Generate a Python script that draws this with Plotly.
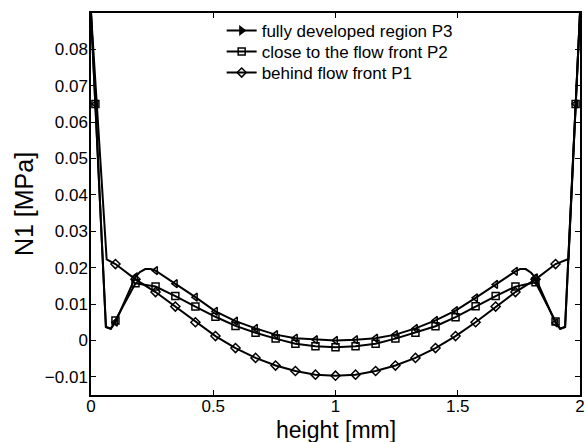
import plotly.graph_objects as go

# ---- data ----
marker_x = [0.018, 0.100, 0.182, 0.264, 0.345, 0.427, 0.509, 0.591, 0.673, 0.755,
            0.836, 0.918, 1.000, 1.082, 1.164, 1.245, 1.327, 1.409, 1.491, 1.573,
            1.655, 1.736, 1.818, 1.900, 1.982]

p3_marker_y = [0.065, 0.0050, 0.0175, 0.0192, 0.0156, 0.0119, 0.0080, 0.0053, 0.0033, 0.0016,
               0.0006, 0.0002, 0.0000, 0.0002, 0.0006, 0.0016, 0.0033, 0.0055, 0.0082, 0.0117,
               0.0154, 0.0190, 0.0172, 0.0048, 0.065]
p2_marker_y = [0.065, 0.0055, 0.0157, 0.0148, 0.0122, 0.0093, 0.0065, 0.0040, 0.0021, 0.0005,
               -0.0009, -0.0016, -0.0019, -0.0016, -0.0009, 0.0005, 0.0021, 0.0039, 0.0064, 0.0094,
               0.0122, 0.0148, 0.0160, 0.0052, 0.065]
p1_marker_y = [None, 0.0210, 0.0168, 0.0133, 0.0093, 0.0050, 0.0012, -0.0021, -0.0048, -0.0069,
               -0.0084, -0.0094, -0.0097, -0.0094, -0.0084, -0.0069, -0.0048, -0.0021, 0.0012, 0.0050,
               0.0093, 0.0133, 0.0168, 0.0210, None]

# extra line vertices (no markers) near the walls / hump
p3_extra_x = [0.0, 0.061, 0.081, 0.200, 0.222, 0.245, 1.755, 1.778, 1.800, 1.919, 1.939, 2.0]
p3_extra_y = [0.090, 0.0037, 0.0032, 0.0188, 0.0196, 0.0196, 0.0196, 0.0196, 0.0186, 0.0032, 0.0037, 0.090]
p2_extra_x = [0.0, 0.061, 0.081, 1.919, 1.939, 2.0]
p2_extra_y = [0.090, 0.0037, 0.0032, 0.0032, 0.0037, 0.090]
p1_extra_x = [0.0, 0.064, 1.953, 2.0]
p1_extra_y = [0.090, 0.0223, 0.0224, 0.090]

x_tickvals = [0, 0.5, 1, 1.5, 2]
x_ticktext = ["0", "0.5", "1", "1.5", "2"]
y_tickvals = [-0.01, 0, 0.01, 0.02, 0.03, 0.04, 0.05, 0.06, 0.07, 0.08]
y_ticktext = ["\u22120.01", "0", "0.01", "0.02", "0.03", "0.04", "0.05", "0.06", "0.07", "0.08"]

series = [
    ("fully developed region P3", p3_marker_y, p3_extra_x, p3_extra_y, "triangle-left-open", "triangle-right"),
    ("close to the flow front P2", p2_marker_y, p2_extra_x, p2_extra_y, "square-open", "square-open"),
    ("behind flow front P1", p1_marker_y, p1_extra_x, p1_extra_y, "diamond-open", "diamond-open"),
]

FONT = "Liberation Sans, Arial, Helvetica, sans-serif"
fig = go.Figure()

for name, my, ex, ey, sym, legsym in series:
    pts = [(x, y) for x, y in zip(marker_x, my) if y is not None] + list(zip(ex, ey))
    pts.sort(key=lambda p: p[0])
    fig.add_trace(go.Scatter(x=[p[0] for p in pts], y=[p[1] for p in pts], mode="lines",
                             line=dict(color="black", width=2), showlegend=False, hoverinfo="skip"))
    mxs, mys = [], []
    for x, y in zip(marker_x, my):
        if y is not None:
            mxs += [x, None]
            mys += [y, None]
    fig.add_trace(go.Scatter(x=mxs, y=mys, mode="markers",
                             marker=dict(symbol=sym, size=7, color="black", line=dict(color="black", width=1.5)),
                             showlegend=False, hoverinfo="skip"))

legend_ids = ["legend", "legend2", "legend3"]
for (name, my, ex, ey, sym, legsym), lid in zip(series, legend_ids):
    fig.add_trace(go.Scatter(x=[None], y=[None], mode="lines+markers", name=name, legend=lid,
                             line=dict(color="black", width=2),
                             marker=dict(symbol=legsym, size=7, color="black", line=dict(color="black", width=1.5))))

axis_common = dict(showline=True, linecolor="black", linewidth=1.5, mirror="ticks",
                   ticks="inside", ticklen=5, tickwidth=1.2, tickcolor="black",
                   showgrid=False, zeroline=False, ticklabeloverflow="allow",
                   tickfont=dict(family=FONT, size=17, color="black"))

leg_common = dict(xanchor="left", yanchor="top", bgcolor="rgba(0,0,0,0)", borderwidth=0,
                  font=dict(family=FONT, size=17))
lx = (223 - 91) / 494

fig.update_layout(
    width=586, height=442,
    margin=dict(l=91, r=1, t=13, b=47),
    paper_bgcolor="white", plot_bgcolor="white",
    font=dict(family=FONT, color="black"),
    xaxis=dict(range=[0, 2], tickvals=x_tickvals, ticktext=x_ticktext, ticklabelstandoff=-5,
               **axis_common),
    yaxis=dict(range=[-0.015, 0.09], tickvals=y_tickvals, ticktext=y_ticktext, ticklabelstandoff=-2,
               title=dict(text="N1 [MPa]", font=dict(size=25, family=FONT), standoff=4),
               **axis_common),
    legend=dict(x=lx, y=1.0, **leg_common),
    legend2=dict(x=lx, y=1.0 - 21 / 382, **leg_common),
    legend3=dict(x=lx, y=1.0 - 42 / 382, **leg_common),
    annotations=[dict(text="height [mm]", xref="paper", yref="paper", x=0.5, y=-(444 - 395) / 382,
                      xanchor="center", yanchor="bottom", showarrow=False, borderpad=0,
                      font=dict(family=FONT, size=23, color="black"))],
)

fig.write_html("out.html")
